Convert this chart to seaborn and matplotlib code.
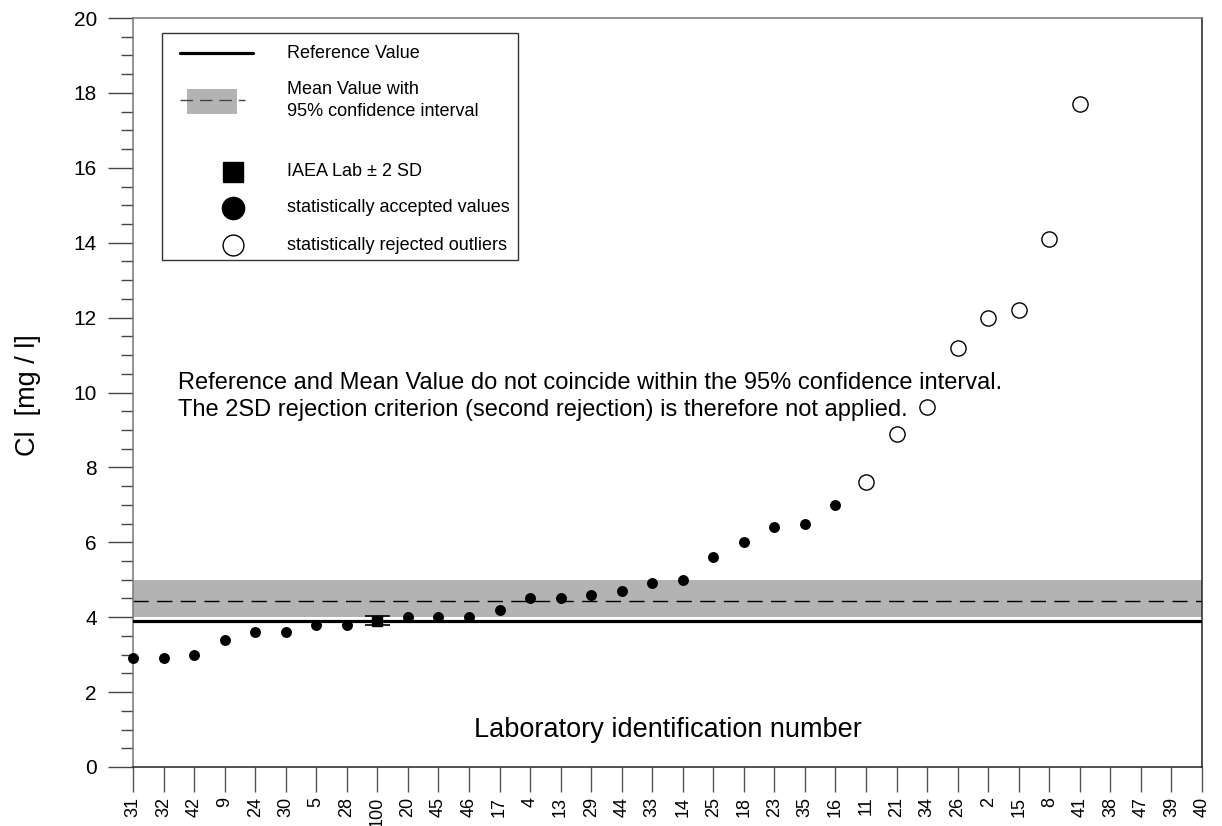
import numpy as np
import pandas as pd
import matplotlib
matplotlib.use("Agg")
import matplotlib.pyplot as plt
from matplotlib.patches import Rectangle
from matplotlib.ticker import MultipleLocator
import seaborn as sns

# ---------------- data ----------------
lab_ids = ["31", "32", "42", "9", "24", "30", "5", "28", "100", "20", "45", "46",
           "17", "4", "13", "29", "44", "33", "14", "25", "18", "23", "35", "16",
           "11", "21", "34", "26", "2", "15", "8", "41", "38", "47", "39", "40"]

accepted_labs = ["31", "32", "42", "9", "24", "30", "5", "28", "20", "45", "46",
                 "17", "4", "13", "29", "44", "33", "14", "25", "18", "23", "35", "16"]
accepted_vals = [2.9, 2.9, 3.0, 3.4, 3.6, 3.6, 3.8, 3.8, 4.0, 4.0, 4.0,
                 4.2, 4.5, 4.5, 4.6, 4.7, 4.9, 5.0, 5.6, 6.0, 6.4, 6.5, 7.0]

rejected_labs = ["11", "21", "34", "26", "2", "15", "8", "41"]
rejected_vals = [7.6, 8.9, 9.6, 11.2, 12.0, 12.2, 14.1, 17.7]

iaea_lab = "100"
iaea_val = 3.9
iaea_2sd = 0.12

reference_value = 3.9
mean_value = 4.42
ci_low = 4.0
ci_high = 4.99

annotation_lines = ["Reference and Mean Value do not coincide within the 95% confidence interval.",
                    "The 2SD rejection criterion (second rejection) is therefore not applied."]
ylabel = "Cl  [mg / l]"
xlabel = "Laboratory identification number"

# ---------------- style ----------------
sns.set_theme(style="white")
plt.rcParams['font.family'] = ['Liberation Sans', 'DejaVu Sans']
plt.rcParams['text.color'] = 'black'
plt.rcParams['axes.labelcolor'] = 'black'
plt.rcParams['xtick.color'] = 'black'
plt.rcParams['ytick.color'] = 'black'

W, H = 1222, 826
fig = plt.figure(figsize=(W / 100, H / 100), dpi=100)
AX_L, AX_R, AX_T, AX_B = 133, 1202, 18, 767
ax = fig.add_axes([AX_L / W, 1 - AX_B / H, (AX_R - AX_L) / W, (AX_B - AX_T) / H])

pos = {lab: i for i, lab in enumerate(lab_ids)}
df_acc = pd.DataFrame({"lab": accepted_labs, "value": accepted_vals})
df_acc["x"] = df_acc["lab"].map(pos)
df_rej = pd.DataFrame({"lab": rejected_labs, "value": rejected_vals})
df_rej["x"] = df_rej["lab"].map(pos)

# band, mean, reference
ax.axhspan(ci_low, ci_high, color="#b3b3b3", lw=0, zorder=1)
ax.axhline(mean_value, color="black", lw=1.0, dashes=(11, 6), zorder=2)
ax.axhline(reference_value, color="black", lw=2.3, zorder=3)

# points
sns.scatterplot(data=df_acc, x="x", y="value", ax=ax, color="black", s=62,
                marker="o", edgecolor="black", linewidth=0, zorder=5, clip_on=False)
sns.scatterplot(data=df_rej, x="x", y="value", ax=ax, facecolor="white", s=120,
                marker="o", edgecolor="black", linewidth=1.0, zorder=5, clip_on=False)
ax.errorbar([pos[iaea_lab]], [iaea_val], yerr=[iaea_2sd], fmt="s", ms=7.5,
            color="black", ecolor="black", elinewidth=1.2, capsize=9,
            capthick=1.2, zorder=6)

# axes
ax.set_xlim(0, len(lab_ids) - 1)
ax.set_ylim(0, 20)
ax.set_xticks(range(len(lab_ids)))
ax.set_xticklabels(lab_ids, rotation=90)
ax.yaxis.set_major_locator(MultipleLocator(2))
ax.yaxis.set_minor_locator(MultipleLocator(0.5))
ax.tick_params(axis="x", direction="out", length=18, width=1.0, color="#555555",
               pad=3.5, labelsize=13, bottom=True, labelcolor="black")
ax.tick_params(axis="y", which="major", direction="out", length=18, width=1.0,
               color="#444444", pad=8, labelsize=15, left=True, labelcolor="black")
ax.tick_params(axis="y", which="minor", direction="out", length=9, width=1.0,
               color="#444444", left=True)
for side, col in [("left", "#777777"), ("top", "#777777"),
                  ("right", "#222222"), ("bottom", "#222222")]:
    ax.spines[side].set_color(col)
    ax.spines[side].set_linewidth(1.1)
    ax.spines[side].set_visible(True)
ax.grid(False)

ax.set_xlabel(xlabel, fontsize=19.5, color="black")
ax.xaxis.set_label_coords(0.5, (AX_B - 717) / (AX_B - AX_T))
ax.set_ylabel(ylabel, fontsize=19.5, color="black")
ax.yaxis.set_label_coords((41 - AX_L) / (AX_R - AX_L), 0.497)


def fr(px, py):
    return ((px - AX_L) / (AX_R - AX_L), (AX_B - py) / (AX_B - AX_T))


# annotation
for line, py in zip(annotation_lines, [383, 410]):
    tx, ty = fr(178, py)
    ax.text(tx, ty, line, transform=ax.transAxes, fontsize=17, va="center",
            ha="left", color="black", zorder=7)

# ---------------- legend (drawn in axes coordinates) ----------------
lx0, ly0 = fr(162, 260)
lx1, ly1 = fr(518, 33)
ax.add_patch(Rectangle((lx0, ly0), lx1 - lx0, ly1 - ly0, transform=ax.transAxes,
                       facecolor="white", edgecolor="#333333", lw=1.0, zorder=8,
                       clip_on=False))
T = ax.transAxes
a, b = fr(180, 53); c, _ = fr(253, 53)
ax.plot([a, c], [b, b], transform=T, color="black", lw=2.3, zorder=9, clip_on=False)
ra, rb = fr(187, 114); rc, rd = fr(237, 89)
ax.add_patch(Rectangle((ra, rb), rc - ra, rd - rb, transform=T, facecolor="#b3b3b3",
                       lw=0, zorder=9, clip_on=False))
a, b = fr(180, 100); c, _ = fr(245, 100)
ax.plot([a, c], [b, b], transform=T, color="#444444", lw=1.0, dashes=(9, 5),
        zorder=10, clip_on=False)
a, b = fr(233, 172)
ax.plot([a], [b], transform=T, marker="s", ms=15, color="black", zorder=10,
        clip_on=False)
a, b = fr(233, 208)
ax.plot([a], [b], transform=T, marker="o", ms=16, color="black", zorder=10,
        clip_on=False)
a, b = fr(233, 245)
ax.plot([a], [b], transform=T, marker="o", ms=15, mfc="white", mec="black",
        mew=1.0, zorder=10, clip_on=False)

leg_texts = [("Reference Value", 53), ("Mean Value with", 90),
             ("95% confidence interval", 111), ("IAEA Lab \u00b1 2 SD", 172),
             ("statistically accepted values", 208),
             ("statistically rejected outliers", 245)]
for s, py in leg_texts:
    a, b = fr(287, py)
    ax.text(a, b, s, transform=T, fontsize=13, va="center", ha="left",
            color="black", zorder=10)

fig.savefig("out.png", dpi=100)
